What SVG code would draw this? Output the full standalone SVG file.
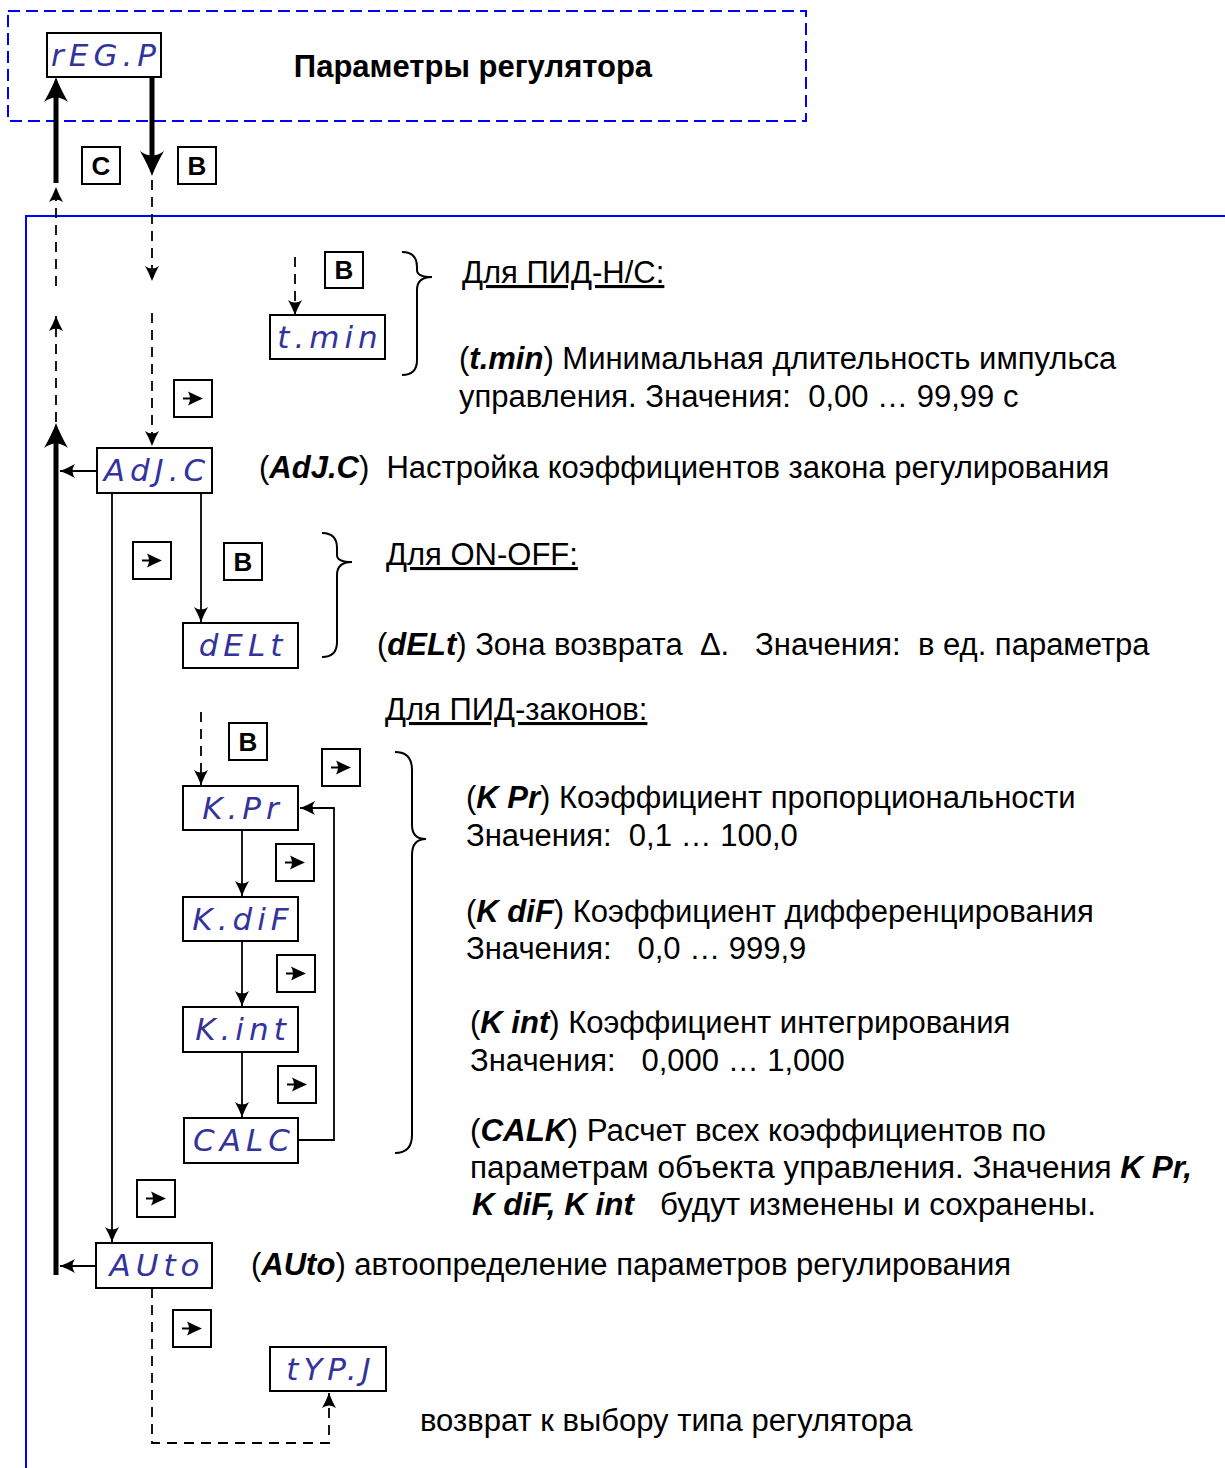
<svg xmlns="http://www.w3.org/2000/svg" xmlns:xlink="http://www.w3.org/1999/xlink" width="1225" height="1468" viewBox="0 0 1225 1468">
<style>
.t{font-family:"Liberation Sans",Arial,sans-serif;font-size:31px;fill:#000;white-space:pre}
.bi{font-weight:bold;font-style:italic}
.u{text-decoration:underline}
.seg{font-family:"DejaVu Sans",sans-serif;font-style:oblique;font-size:31px;fill:#33339c;letter-spacing:5px;text-anchor:middle}
.box{fill:#fff;stroke:#000;stroke-width:2}
.key{font-family:"Liberation Sans",Arial,sans-serif;font-size:26px;font-weight:bold;text-anchor:middle}
.ln{fill:none;stroke:#000;stroke-width:1.8}
.dash{fill:none;stroke:#000;stroke-width:1.8;stroke-dasharray:10 7}
.thick{fill:none;stroke:#000;stroke-width:5}
.brace{fill:none;stroke:#000;stroke-width:2}
.nar{font-size:31px}
</style>
<defs>
<marker id="ah" viewBox="-16 -8 17 16" refX="0" refY="0" markerWidth="17" markerHeight="16" markerUnits="userSpaceOnUse" orient="auto">
<path d="M0,0 Q-8,-3 -15,-7 Q-10,0 -15,7 Q-8,3 0,0 Z" fill="#000"/>
</marker>
<marker id="ahb" viewBox="-1 -13 28 26" refX="13" refY="0" markerWidth="28" markerHeight="26" markerUnits="userSpaceOnUse" orient="auto">
<path d="M25,0 Q14,-4 0,-12 Q9,0 0,12 Q14,4 25,0 Z" fill="#000"/>
</marker>
<g id="btn">
<rect x="0" y="0" width="38" height="37" class="box"/>
<path d="M9,18.5 H20" stroke="#000" stroke-width="2"/>
<path d="M29,18.5 Q22,15.5 14,11.5 Q18,18.5 14,25.5 Q22,21.5 29,18.5 Z" fill="#000"/>
</g>
</defs>

<rect width="1225" height="1468" fill="#fff"/>

<g id="frame">
<rect x="8" y="11" width="798" height="110" fill="none" stroke="#0000ff" stroke-width="2" stroke-dasharray="12 6"/>
<path d="M1225,216 H26 V1468" fill="none" stroke="#0000ff" stroke-width="2"/>
</g>

<g id="title">
<text x="473" y="77" class="t" style="font-weight:bold" text-anchor="middle">Параметры регулятора</text>
</g>

<g id="connectors">
<path class="thick" d="M56,183 V89" marker-end="url(#ahb)"/>
<path class="thick" d="M152,77 V164" marker-end="url(#ahb)"/>
<path class="dash" d="M56,286 V187" marker-end="url(#ah)"/>
<path class="dash" d="M56,422 V316" marker-end="url(#ah)"/>
<path class="thick" d="M56,1275 V435" marker-end="url(#ahb)"/>
<path class="dash" d="M152,180 V281" marker-end="url(#ah)"/>
<path class="dash" d="M152,313 V446" marker-end="url(#ah)"/>
<path class="dash" d="M295,257 V315" marker-end="url(#ah)"/>
<path class="ln" d="M97,471 H60" marker-end="url(#ah)"/>
<path class="ln" d="M112,493 V1242" marker-end="url(#ah)"/>
<path class="ln" d="M201,493 V622" marker-end="url(#ah)"/>
<path class="dash" d="M201,712 V785" marker-end="url(#ah)"/>
<path class="ln" d="M242,830 V896" marker-end="url(#ah)"/>
<path class="ln" d="M242,941 V1006" marker-end="url(#ah)"/>
<path class="ln" d="M242,1052 V1117" marker-end="url(#ah)"/>
<path class="ln" d="M298,1140 H334 V808 H300" marker-end="url(#ah)"/>
<path class="ln" d="M96,1266 H60" marker-end="url(#ah)"/>
<path class="dash" d="M152,1288 V1443 H329 V1393" marker-end="url(#ah)"/>
</g>

<g id="braces">
<path class="brace" d="M402,252 Q417,252 417,267 V270 Q417,277 432,277 Q417,277 417,290 V360 Q417,375 402,375"/>
<path class="brace" d="M322,533 Q337,533 337,548 V555 Q337,562 352,562 Q337,562 337,575 V642 Q337,657 322,657"/>
<path class="brace" d="M395,752 Q412,752 412,770 V825 Q412,839 426,839 Q412,839 412,855 V1135 Q412,1153 395,1153"/>
</g>

<g id="keys">
<rect x="82" y="147" width="38" height="37" class="box"/><text x="101" y="175" class="key">C</text>
<rect x="178" y="147" width="38" height="37" class="box"/><text x="197" y="175" class="key">B</text>
<rect x="325" y="252" width="38" height="36" class="box"/><text x="344" y="279" class="key">B</text>
<rect x="224" y="543" width="38" height="37" class="box"/><text x="243" y="571" class="key">B</text>
<rect x="229" y="723" width="38" height="37" class="box"/><text x="248" y="751" class="key">B</text>
<use xlink:href="#btn" x="174" y="380"/>
<use xlink:href="#btn" x="133" y="542"/>
<use xlink:href="#btn" x="322" y="749"/>
<use xlink:href="#btn" x="276" y="844"/>
<use xlink:href="#btn" x="277" y="955"/>
<use xlink:href="#btn" x="278" y="1066"/>
<use xlink:href="#btn" x="137" y="1180"/>
<use xlink:href="#btn" x="173" y="1310"/>
</g>

<g id="node-regp"><rect x="47" y="33" width="114" height="44" class="box"/><text x="106" y="66" class="seg">rEG.P</text></g>
<g id="node-tmin"><rect x="270" y="315" width="115" height="44" class="box"/><text x="330" y="348" class="seg">t.min</text></g>
<g id="node-adjc"><rect x="97" y="448" width="115" height="45" class="box"/><text x="157" y="481" class="seg">AdJ.C</text></g>
<g id="node-delt"><rect x="183" y="623" width="115" height="45" class="box"/><text x="243" y="656" class="seg">dELt</text></g>
<g id="node-kpr"><rect x="183" y="786" width="115" height="44" class="box"/><text x="243" y="819" class="seg">K.Pr</text></g>
<g id="node-kdif"><rect x="183" y="897" width="115" height="44" class="box"/><text x="243" y="930" class="seg">K.diF</text></g>
<g id="node-kint"><rect x="183" y="1007" width="115" height="45" class="box"/><text x="243" y="1040" class="seg">K.int</text></g>
<g id="node-calc"><rect x="184" y="1118" width="114" height="45" class="box"/><text x="244" y="1151" class="seg">CALC</text></g>
<g id="node-auto"><rect x="96" y="1243" width="116" height="45" class="box"/><text x="157" y="1276" class="seg">AUto</text></g>
<g id="node-typ"><rect x="270" y="1347" width="116" height="44" class="box"/><text x="331" y="1380" class="seg">tYP.J</text></g>

<g id="texts">
<text x="462" y="283" class="t u">Для ПИД-Н/С:</text>
<text x="459" y="369" class="t">(<tspan class="bi">t.min</tspan>) Минимальная длительность импульса</text>
<text x="459" y="407" class="t">управления. Значения:  0,00 … 99,99 с</text>
<text x="259" y="478" class="t">(<tspan class="bi">AdJ.C</tspan>)  Настройка коэффициентов закона регулирования</text>
<text x="386" y="565" class="t u">Для ON-OFF:</text>
<text x="377" y="655" class="t">(<tspan class="bi">dELt</tspan>) Зона возврата  Δ.   Значения:  в ед. параметра</text>
<text x="385" y="720" class="t u">Для ПИД-законов:</text>
<text x="466" y="808" class="t">(<tspan class="bi">K Pr</tspan>) Коэффициент пропорциональности</text>
<text x="466" y="846" class="t">Значения:  0,1 … 100,0</text>
<text x="466" y="922" class="t">(<tspan class="bi">K diF</tspan>) Коэффициент дифференцирования</text>
<text x="466" y="959" class="t">Значения:   0,0 … 999,9</text>
<text x="470" y="1033" class="t">(<tspan class="bi">K int</tspan>) Коэффициент интегрирования</text>
<text x="470" y="1071" class="t">Значения:   0,000 … 1,000</text>
<text x="470" y="1141" class="t nar" textLength="576" lengthAdjust="spacingAndGlyphs">(<tspan class="bi">CALK</tspan>) Расчет всех коэффициентов по</text>
<text x="470" y="1178" class="t nar" textLength="722" lengthAdjust="spacingAndGlyphs">параметрам объекта управления. Значения <tspan class="bi">K Pr,</tspan></text>
<text x="472" y="1215" class="t nar" textLength="624" lengthAdjust="spacingAndGlyphs"><tspan class="bi">K diF, K int</tspan>   будут изменены и сохранены.</text>
<text x="251" y="1275" class="t">(<tspan class="bi">AUto</tspan>) автоопределение параметров регулирования</text>
<text x="420" y="1431" class="t">возврат к выбору типа регулятора</text>
</g>
</svg>
